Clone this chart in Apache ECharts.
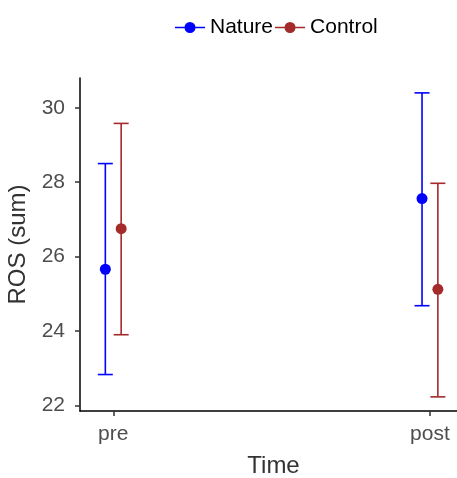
<!DOCTYPE html>
<html>
<head>
<meta charset="utf-8">
<script src="https://cdn.jsdelivr.net/npm/echarts@6/dist/echarts.min.js"></script>
<style>html,body{margin:0;padding:0;background:#fff;}#c{width:457px;height:478px;}</style>
</head>
<body>
<div id="c"></div>
<script>
var categories = ['pre', 'post'];
var seriesNames = ['Nature', 'Control'];
var natureMean = [25.66, 27.56];
var natureLow = [22.83, 24.68];
var natureHigh = [28.50, 30.40];
var controlMean = [26.75, 25.12];
var controlLow = [23.90, 22.23];
var controlHigh = [29.58, 27.97];
var yTicks = [22, 24, 26, 28, 30];
var colors = ['#0000FF', '#A52A2A'];
var dodge = 0.025;

var font = 'Liberation Sans, Arial, sans-serif';
var iconPath = 'path://M0,5.25 L30,5.25 L30,6.75 L0,6.75 Z M9.5,6 A5.5,5.5 0 1,1 20.5,6 A5.5,5.5 0 1,1 9.5,6 Z';

function pointData(means, off) {
  return means.map(function (m, i) { return [i + 1 + off, m]; });
}
function barData(lows, highs, off) {
  return lows.map(function (l, i) { return [i + 1 + off, l, highs[i]]; });
}
function errRender(color) {
  return function (params, api) {
    var x = api.value(0);
    var lo = api.coord([x, api.value(1)]);
    var hi = api.coord([x, api.value(2)]);
    var hw = 7.5;
    var st = { stroke: color, lineWidth: 1.6 };
    return {
      type: 'group',
      children: [
        { type: 'line', shape: { x1: lo[0], y1: lo[1], x2: hi[0], y2: hi[1] }, style: st },
        { type: 'line', shape: { x1: lo[0] - hw, y1: lo[1], x2: lo[0] + hw, y2: lo[1] }, style: st },
        { type: 'line', shape: { x1: hi[0] - hw, y1: hi[1], x2: hi[0] + hw, y2: hi[1] }, style: st }
      ]
    };
  };
}

var chart = echarts.init(document.getElementById('c'), null, { renderer: 'canvas' });
chart.setOption({
  animation: false,
  backgroundColor: '#ffffff',
  legend: {
    data: [
      { name: seriesNames[0], icon: iconPath },
      { name: seriesNames[1], icon: iconPath }
    ],
    left: 175,
    top: 17,
    padding: 0,
    itemWidth: 30,
    itemHeight: 12,
    itemGap: 2,
    textStyle: { fontSize: 21, color: '#000', fontFamily: font }
  },
  grid: { left: 80, right: -10, top: 78, bottom: 67, containLabel: false, outerBoundsMode: 'none' },
  xAxis: {
    type: 'value',
    min: 0.895,
    max: 2.117,
    name: 'Time',
    nameLocation: 'middle',
    nameGap: 43,
    nameTextStyle: { fontSize: 24, color: '#333', fontFamily: font },
    axisLine: { show: true, lineStyle: { color: '#000', width: 1.5 } },
    axisTick: { show: true, length: 5, customValues: [1, 2], lineStyle: { color: '#333', width: 1.5 } },
    axisLabel: {
      customValues: [1, 2],
      fontSize: 21, color: '#4D4D4D', fontFamily: font, margin: 13,
      formatter: function (v) { return categories[Math.round(v) - 1] || ''; }
    },
    splitLine: { show: false }
  },
  yAxis: {
    type: 'value',
    min: 21.85,
    max: 30.8,
    name: 'ROS (sum)',
    nameLocation: 'middle',
    nameGap: 41,
    nameTextStyle: { fontSize: 24, color: '#333', fontFamily: font },
    axisLine: { show: true, lineStyle: { color: '#000', width: 1.5 } },
    axisTick: { show: true, length: 5, customValues: yTicks, lineStyle: { color: '#333', width: 1.5 } },
    axisLabel: {
      customValues: yTicks,
      fontSize: 21, color: '#4D4D4D', fontFamily: font, margin: 15
    },
    splitLine: { show: false }
  },
  series: [
    {
      name: seriesNames[0] + ' err', type: 'custom', renderItem: errRender(colors[0]),
      data: barData(natureLow, natureHigh, -dodge), encode: { x: 0, y: [1, 2] }, z: 2
    },
    {
      name: seriesNames[1] + ' err', type: 'custom', renderItem: errRender(colors[1]),
      data: barData(controlLow, controlHigh, dodge), encode: { x: 0, y: [1, 2] }, z: 2
    },
    {
      name: seriesNames[0], type: 'scatter', symbol: 'circle', symbolSize: 11,
      itemStyle: { color: colors[0], opacity: 1 }, data: pointData(natureMean, -dodge), z: 3
    },
    {
      name: seriesNames[1], type: 'scatter', symbol: 'circle', symbolSize: 11,
      itemStyle: { color: colors[1], opacity: 1 }, data: pointData(controlMean, dodge), z: 3
    }
  ]
});
</script>
</body>
</html>
